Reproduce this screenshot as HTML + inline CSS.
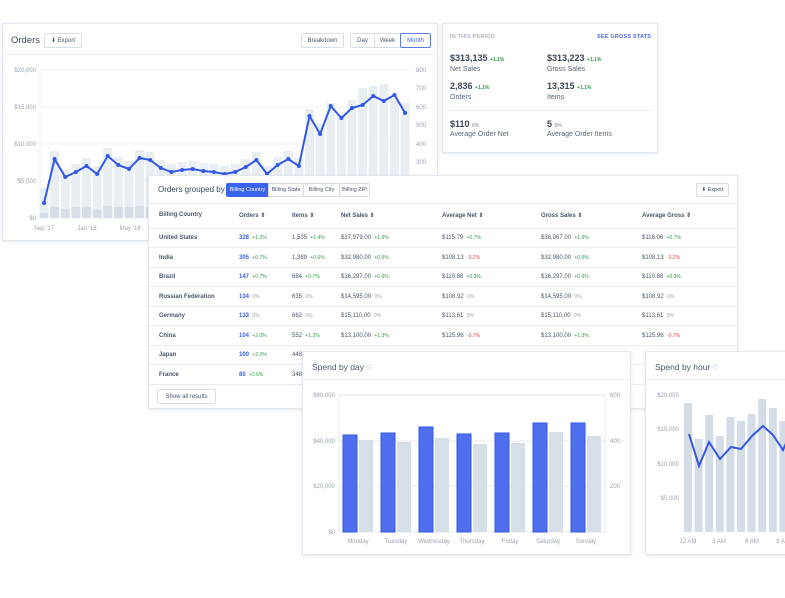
<!DOCTYPE html>
<html><head><meta charset="utf-8"><style>
*{box-sizing:border-box;margin:0;padding:0}
body{width:785px;height:598px;background:#fff;position:relative;overflow:hidden;font-family:"Liberation Sans",sans-serif;color:#3d4858}
.card{position:absolute;background:#fff;border:1px solid #e3e8ee;box-shadow:0 1px 3px rgba(60,72,90,.12)}
.t{position:absolute;white-space:nowrap}
.btn{position:absolute;border:1px solid #d9dee5;border-radius:2px;font-size:6px;color:#4a5668;background:#fff;display:flex;align-items:center;justify-content:center}
.hr{position:absolute;height:1px;background:#e9edf1}
.g{color:#2f9e44;font-size:5px}
.r{color:#e04848;font-size:5px}
.z{color:#9aa3b0;font-size:5px}
.b{color:#3b5ee8;font-weight:bold}
svg text{font-family:"Liberation Sans",sans-serif}
</style></head><body>

<div class="card" style="left:2px;top:23px;width:436px;height:218px">
<div class="t" style="left:8px;top:11px;font-size:9.5px;color:#3d4858">Orders</div>
<div class="btn" style="left:41px;top:9px;width:38px;height:15px">⬇ Export</div>
<div class="btn" style="left:298px;top:9px;width:43px;height:15px">Breakdown</div>
<div class="btn" style="left:347px;top:9px;width:25px;height:15px">Day</div>
<div class="btn" style="left:371px;top:9px;width:27px;height:15px">Week</div>
<div class="btn" style="left:397px;top:9px;width:31px;height:15px;border-color:#5b7cf0;color:#3b5ee8">Month</div>
<div class="hr" style="left:0;top:30px;width:434px"></div>
</div>
<svg style="position:absolute;left:0;top:0" width="440" height="245">
<g stroke="#edf0f3" stroke-width="1">
<line x1="40" y1="70" x2="411" y2="70"/><line x1="40" y1="107" x2="411" y2="107"/><line x1="40" y1="144" x2="411" y2="144"/><line x1="40" y1="181" x2="411" y2="181"/><line x1="40" y1="218" x2="411" y2="218"/><line x1="40" y1="70" x2="40" y2="218"/>
</g>
<g font-size="6" fill="#9aa3b0" text-anchor="end">
<text x="36" y="72">$20,000</text><text x="36" y="109">$15,000</text><text x="36" y="146">$10,000</text><text x="36" y="183">$5,000</text><text x="36" y="220">$0</text>
</g>
<g font-size="6" fill="#9aa3b0">
<text x="416" y="72">800</text><text x="416" y="90">700</text><text x="416" y="109">600</text><text x="416" y="127">500</text><text x="416" y="146">400</text><text x="416" y="164">300</text>
</g>
<g font-size="6" fill="#9aa3b0" text-anchor="middle">
<text x="44" y="230">Sep '17</text><text x="87" y="230">Jan '18</text><text x="130" y="230">May '18</text>
</g>
<g fill="#e9eef3">
<rect x="39.5" y="188" width="9" height="30"/><rect x="50.1" y="151" width="9" height="67"/><rect x="60.7" y="169" width="9" height="49"/><rect x="71.4" y="164" width="9" height="54"/><rect x="82" y="158" width="9" height="60"/><rect x="92.6" y="166" width="9" height="52"/><rect x="103.2" y="148" width="9" height="70"/><rect x="113.8" y="157" width="9" height="61"/><rect x="124.5" y="161" width="9" height="57"/><rect x="135.1" y="150" width="9" height="68"/><rect x="145.7" y="152" width="9" height="66"/><rect x="156.3" y="160" width="9" height="58"/><rect x="166.9" y="164" width="9" height="54"/><rect x="177.6" y="162" width="9" height="56"/><rect x="188.2" y="161" width="9" height="57"/><rect x="198.8" y="163" width="9" height="55"/><rect x="209.4" y="164" width="9" height="54"/><rect x="220" y="166" width="9" height="52"/><rect x="230.7" y="164" width="9" height="54"/><rect x="241.3" y="159" width="9" height="59"/><rect x="251.9" y="152" width="9" height="66"/><rect x="262.5" y="166" width="9" height="52"/><rect x="273.1" y="157" width="9" height="61"/><rect x="283.8" y="151" width="9" height="67"/><rect x="294.4" y="158" width="9" height="60"/><rect x="305" y="109" width="9" height="109"/><rect x="315.6" y="124" width="9" height="94"/><rect x="326.2" y="103" width="9" height="115"/><rect x="336.9" y="115" width="9" height="103"/><rect x="347.5" y="100" width="9" height="118"/><rect x="358.1" y="88" width="9" height="130"/><rect x="368.7" y="86" width="9" height="132"/><rect x="379.3" y="84" width="9" height="134"/><rect x="390" y="98" width="9" height="120"/><rect x="400.6" y="103" width="9" height="115"/>
</g>
<g fill="#d5dee7">
<rect x="39.5" y="213" width="9" height="5"/><rect x="50.1" y="207" width="9" height="11"/><rect x="60.7" y="209" width="9" height="9"/><rect x="71.4" y="207" width="9" height="11"/><rect x="82" y="207" width="9" height="11"/><rect x="92.6" y="210" width="9" height="8"/><rect x="103.2" y="206" width="9" height="12"/><rect x="113.8" y="207" width="9" height="11"/><rect x="124.5" y="207" width="9" height="11"/><rect x="135.1" y="206" width="9" height="12"/><rect x="145.7" y="207" width="9" height="11"/>
</g>
<polyline fill="none" stroke="#3358e6" stroke-width="2" points="44,203 54.6,159 65.2,177 75.9,172 86.5,166 97.1,174 107.7,156 118.3,165 129,169 139.6,158 150.2,160 160.8,168 171.4,172 182.1,170 192.7,169 203.3,171 213.9,172 224.5,174 235.2,172 245.8,167 256.4,160 267,174 277.6,165 288.3,159 298.9,166 309.5,116 320.1,134 330.7,106 341.4,118 352,108 362.6,105 373.2,96 383.8,101 394.5,95 405.1,113"/>
<g id="od" fill="#3358e6"></g>
</svg>

<div class="card" style="left:442px;top:23px;width:216px;height:130px">
<div class="t" style="left:7px;top:10px;font-size:5.5px;color:#8a94a4;letter-spacing:.2px">IN THIS PERIOD</div>
<div class="t" style="left:154px;top:10px;font-size:5.5px;color:#4a6cf0;font-weight:bold;letter-spacing:.2px">SEE GROSS STATS</div>
<div class="t" style="left:7px;top:29px;font-size:9px;font-weight:bold">$313,135 <span class="g">+1.1%</span></div>
<div class="t" style="left:7px;top:42px;font-size:7px;color:#5a6678">Net Sales</div>
<div class="t" style="left:104px;top:29px;font-size:9px;font-weight:bold">$313,223 <span class="g">+1.1%</span></div>
<div class="t" style="left:104px;top:42px;font-size:7px;color:#5a6678">Gross Sales</div>
<div class="t" style="left:7px;top:57px;font-size:9px;font-weight:bold">2,836 <span class="g">+1.1%</span></div>
<div class="t" style="left:7px;top:70px;font-size:7px;color:#5a6678">Orders</div>
<div class="t" style="left:104px;top:57px;font-size:9px;font-weight:bold">13,315 <span class="g">+1.1%</span></div>
<div class="t" style="left:104px;top:70px;font-size:7px;color:#5a6678">Items</div>
<div class="hr" style="left:7px;top:86px;width:203px"></div>
<div class="t" style="left:7px;top:95px;font-size:9px;font-weight:bold">$110 <span class="z">0%</span></div>
<div class="t" style="left:7px;top:107px;font-size:7px;color:#5a6678">Average Order Net</div>
<div class="t" style="left:104px;top:95px;font-size:9px;font-weight:bold">5 <span class="z">0%</span></div>
<div class="t" style="left:104px;top:107px;font-size:7px;color:#5a6678">Average Order Items</div>
</div>

<div class="card" style="left:148px;top:175px;width:590px;height:234px;font-size:6px">
<div class="t" style="left:9px;top:9px;font-size:8px;color:#3d4858">Orders grouped by</div>
<div class="btn" style="left:77px;top:7px;width:43px;height:14px;background:#3b64ee;color:#fff;border-color:#3b64ee;font-size:5.5px">Billing Country</div>
<div class="btn" style="left:119px;top:7px;width:36px;height:14px;font-size:5.5px">Billing State</div>
<div class="btn" style="left:154px;top:7px;width:37px;height:14px;font-size:5.5px">Billing City</div>
<div class="btn" style="left:190px;top:7px;width:31px;height:14px;font-size:5.5px">Billing ZIP</div>
<div class="btn" style="left:547px;top:7px;width:33px;height:14px;font-size:5.5px">⬇ Export</div>
<div class="hr" style="left:0;top:27px;width:588px"></div>
<div id="tbl"></div>
<div class="btn" style="left:8px;top:213px;width:59px;height:15px">Show all results</div>
</div>

<div class="card" style="left:302px;top:351px;width:329px;height:204px">
<div class="t" style="left:9px;top:10px;font-size:8.5px;color:#4a5668">Spend by day <span style="font-size:6px;color:#a0a8b4">ⓘ</span></div>
<div class="hr" style="left:0;top:27px;width:327px"></div>
</div>
<svg style="position:absolute;left:302px;top:351px" width="329" height="204">
<g stroke="#e6eaee"><rect x="37" y="44" width="266" height="137" fill="none"/><line x1="37" y1="90" x2="303" y2="90"/><line x1="37" y1="135" x2="303" y2="135"/></g>
<g font-size="6" fill="#9aa3b0" text-anchor="end"><text x="33" y="46">$60,000</text><text x="33" y="92">$40,000</text><text x="33" y="137">$20,000</text><text x="33" y="183">$0</text></g>
<g font-size="6" fill="#9aa3b0"><text x="308" y="46">600</text><text x="308" y="92">400</text><text x="308" y="137">200</text></g>
<g id="dbars"></g>
<g font-size="6" fill="#9aa3b0" text-anchor="middle" id="dlab"></g>
</svg>

<div class="card" style="left:645px;top:351px;width:160px;height:204px">
<div class="t" style="left:9px;top:10px;font-size:8.5px;color:#4a5668">Spend by hour <span style="font-size:6px;color:#a0a8b4">ⓘ</span></div>
<div class="hr" style="left:0;top:27px;width:160px"></div>
</div>
<svg style="position:absolute;left:645px;top:351px" width="140" height="204">
<g font-size="6" fill="#9aa3b0" text-anchor="end"><text x="34" y="46">$20,000</text><text x="34" y="80">$15,000</text><text x="34" y="115">$10,000</text><text x="34" y="149">$5,000</text></g>
<g id="hbars" fill="#d4dde6"></g>
<polyline fill="none" stroke="#3358e6" stroke-width="2" points="44,83 54,115 64,91 75,108 86,96 96,98 107,85 118,75 128,84 138,99 149,74"/>
<g font-size="6" fill="#9aa3b0" text-anchor="middle"><text x="43" y="192">12 AM</text><text x="74" y="192">3 AM</text><text x="107" y="192">6 AM</text><text x="138" y="192">9 AM</text></g>
</svg>

<script>
var ns="http://www.w3.org/2000/svg";
function el(p,t,a){var e=document.createElementNS(ns,t);for(var k in a)e.setAttribute(k,String(a[k]));p.appendChild(e);return e;}
var ly=[203,159,177,172,166,174,156,165,169,158,160,168,172,170,169,171,172,174,172,167,160,174,165,159,166,116,134,106,118,108,105,96,101,95,113];
var od=document.getElementById('od');
for(var i=0;i<ly.length;i++){var x=44+i*10.62;el(od,'circle',{cx:x.toFixed(1),cy:ly[i],r:2});}
var rows=[["United States","328","+1.2%","1,535","+1.4%","$37,979.00","+1.9%","$115.79","+0.7%","$38,067.00","+1.9%","$116.06","+0.7%"],
["India","305","+0.7%","1,389","+0.6%","$32,980.00","+0.5%","$108.13","-0.2%","$32,980.00","+0.5%","$108.13","-0.2%"],
["Brazil","147","+0.7%","684","+0.7%","$16,297.00","+0.9%","$110.86","+0.3%","$16,297.00","+0.9%","$110.86","+0.3%"],
["Russian Federation","134","0%","635","0%","$14,595.00","0%","$108.92","0%","$14,595.00","0%","$108.92","0%"],
["Germany","133","0%","662","0%","$15,110.00","0%","$113.61","0%","$15,110.00","0%","$113.61","0%"],
["China","104","+2.0%","552","+1.3%","$13,100.00","+1.3%","$125.96","-0.7%","$13,100.00","+1.3%","$125.96","-0.7%"],
["Japan","100","+2.0%","448","+1.0%","","","","","","","",""],
["France","80","+2.6%","348","+1.0%","","","","","","","",""]];
var cx=[10,90,143,192,293,392,493],h='';
var hd=["Billing Country","Orders ⇕","Items ⇕","Net Sales ⇕","Average Net ⇕","Gross Sales ⇕","Average Gross ⇕"];
for(var c=0;c<7;c++)h+='<div class="t" style="left:'+cx[c]+'px;top:36px;font-weight:bold;color:#4a5668">'+hd[c]+'</div>';
h+='<div class="hr" style="left:0;top:52px;width:588px"></div>';
function cls(s){return s.charAt(0)=='-'?'r':(s=='0%'?'z':'g');}
for(var r=0;r<rows.length;r++){
 var y=59+r*19.5,R=rows[r];
 h+='<div class="t" style="left:10px;top:'+y+'px;font-weight:bold;color:#4a5668">'+R[0]+'</div>';
 for(var c=1;c<7;c++){var v=R[2*c-1];if(!v)continue;
  h+='<div class="t" style="left:'+cx[c]+'px;top:'+y+'px;color:#4a5668"><span'+(c==1?' class="b"':'')+'>'+v+'</span> &nbsp;<span class="'+cls(R[2*c])+'">'+R[2*c]+'</span></div>';}
 h+='<div class="hr" style="left:0;top:'+(y+12)+'px;width:588px"></div>';
}
document.getElementById('tbl').innerHTML=h;
var db=document.getElementById('dbars'),dl=document.getElementById('dlab');
var bt=[84,82,76,83,82,72,72],gt=[89,91,87,93,92,81,85],nm=["Monday","Tuesday","Wednesday","Thursday","Friday","Saturday","Sunday"];
for(var i=0;i<7;i++){var x=41+i*38;
 el(db,'rect',{x:x,y:bt[i],width:14,height:181-bt[i],fill:'#4f6fee',stroke:'#3358e6','stroke-width':1});
 el(db,'rect',{x:x+16,y:gt[i],width:14,height:181-gt[i],fill:'#d6dfe7'});
 var t=el(dl,'text',{x:x+15,y:192});t.textContent=nm[i];}
var hb=document.getElementById('hbars'),ht=[52,88,64,85,66,70,63,48,57,70,55];
for(var i=0;i<ht.length;i++)el(hb,'rect',{x:(39+i*10.6).toFixed(1),y:ht[i],width:8,height:181-ht[i]});
</script>
</body></html>
